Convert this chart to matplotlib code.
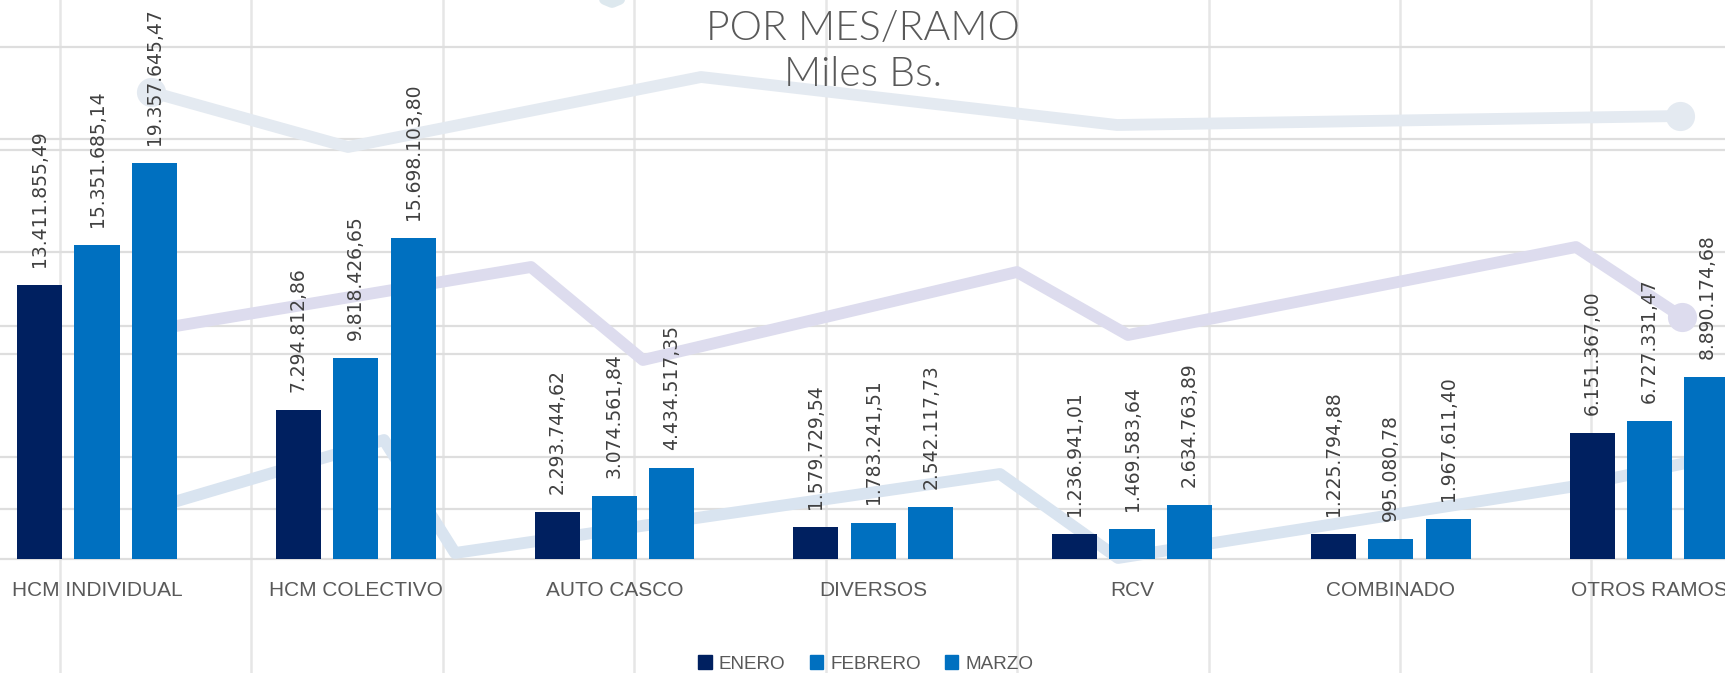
import matplotlib.pyplot as plt
import numpy as np
from matplotlib.patches import Patch

# datos (miles Bs.)
categorias = ["HCM INDIVIDUAL", "HCM COLECTIVO", "AUTO CASCO", "DIVERSOS",
              "RCV", "COMBINADO", "OTROS RAMOS"]
meses = ["ENERO", "FEBRERO", "MARZO"]
enero = [13411855.49, 7294812.86, 2293744.62, 1579729.54, 1236941.01, 1225794.88, 6151367.00]
febrero = [15351685.14, 9818426.65, 3074561.84, 1783241.51, 1469583.64, 995080.78, 6727331.47]
marzo = [19357645.47, 15698103.80, 4434517.35, 2542117.73, 2634763.89, 1967611.40, 8890174.68]
colores = ["#002060", "#0070C0", "#0070C0"]

# fondo decorativo (pixeles de la imagen)
grid_x = [60, 251, 443, 634, 826, 1017, 1209, 1400, 1591]
grid_y = [47, 139, 150, 252, 326, 354, 457, 509, 559]
deco_a_x = [151, 348, 701, 1117, 1680]
deco_a_y = [92, 147, 77, 125, 116]
deco_b_x = [140, 531, 643, 1017, 1128, 1576, 1682]
deco_b_y = [332, 267, 360, 272, 335, 247, 317]
deco_c_x = [140, 384, 455, 1000, 1118, 1570, 1725]
deco_c_y = [512, 440, 553, 474, 558, 487, 455]
deco_top_x = [560, 612, 665]
deco_top_y = [-20, 2, -20]

W, H = 1725, 673
fig = plt.figure(figsize=(W / 100, H / 100), dpi=100)

bg = fig.add_axes([0, 0, 1, 1], zorder=0)
bg.set_xlim(0, W)
bg.set_ylim(H, 0)
bg.axis("off")
for x in grid_x:
    bg.axvline(x, color="#E6E6E6", lw=1.8)
for y in grid_y:
    bg.axhline(y, color="#DEDEDE", lw=1.6)
lw_deco = 8.5
bg.plot(deco_a_x, deco_a_y, color="#E4EAF1", lw=lw_deco, solid_capstyle="round")
bg.plot([deco_a_x[0], deco_a_x[-1]], [deco_a_y[0], deco_a_y[-1]], "o", color="#E4EAF1", ms=21, mew=0)
bg.plot(deco_b_x, deco_b_y, color="#DDDCEE", lw=lw_deco, solid_capstyle="round")
bg.plot(deco_b_x[-1:], deco_b_y[-1:], "o", color="#DDDCEE", ms=21, mew=0)
bg.plot(deco_c_x, deco_c_y, color="#D9E4F0", lw=lw_deco, solid_capstyle="round")
bg.plot(deco_top_x, deco_top_y, color="#DDE8EE", lw=lw_deco, solid_capstyle="round")

# ejes principales
px0, step, px_per_m, base = 97, 258.75, 20.45, 559
ax = fig.add_axes([0, (H - base) / H, 1, base / H], zorder=1)
ax.patch.set_alpha(0)
ax.set_xlim(-px0 / step, (W - px0) / step)
ax.set_ylim(0, base / px_per_m * 1e6)
for s in ax.spines.values():
    s.set_visible(False)
ax.set_xticks([])
ax.set_yticks([])

x = np.arange(len(categorias))
ancho = 0.174
paso = 0.222


def fmt(v):
    s = f"{v:,.2f}"
    return s.replace(",", "X").replace(".", ",").replace("X", ".")


for k, (serie, color) in enumerate(zip([enero, febrero, marzo], colores)):
    pos = x + (k - 1) * paso
    ax.bar(pos, serie, width=ancho, color=color, zorder=2)
    for xi, v in zip(pos, serie):
        ax.annotate(fmt(v), (xi, v), xytext=(0, 13), textcoords="offset points",
                    rotation=90, ha="center", va="bottom", fontsize=13.5,
                    color="#404040", zorder=3)

for xi, c in zip(x, categorias):
    ax.annotate(c, (xi, 0), xytext=(0, -23), textcoords="offset points",
                ha="center", va="center", fontsize=15, color="#595959",
                family=["Liberation Sans", "DejaVu Sans"])

fig.text(863 / W, 1 - 28 / H, "POR MES/RAMO", ha="center", va="center",
         fontsize=29.5, color="#595959", family=["Lato", "DejaVu Sans"], fontweight=300)
fig.text(863 / W, 1 - 75 / H, "Miles Bs.", ha="center", va="center",
         fontsize=29.5, color="#595959", family=["Lato", "DejaVu Sans"], fontweight=300)

handles = [Patch(color=c) for c in colores]
fig.legend(handles, meses, loc="center", bbox_to_anchor=(866 / W, 1 - 664 / H),
           ncol=3, frameon=False, handlelength=0.7, handleheight=0.7,
           handletextpad=0.38, columnspacing=1.29, borderpad=0,
           prop={"family": ["Liberation Sans", "DejaVu Sans"], "size": 13.6},
           labelcolor="#595959")

fig.savefig("out.png", dpi=100)
